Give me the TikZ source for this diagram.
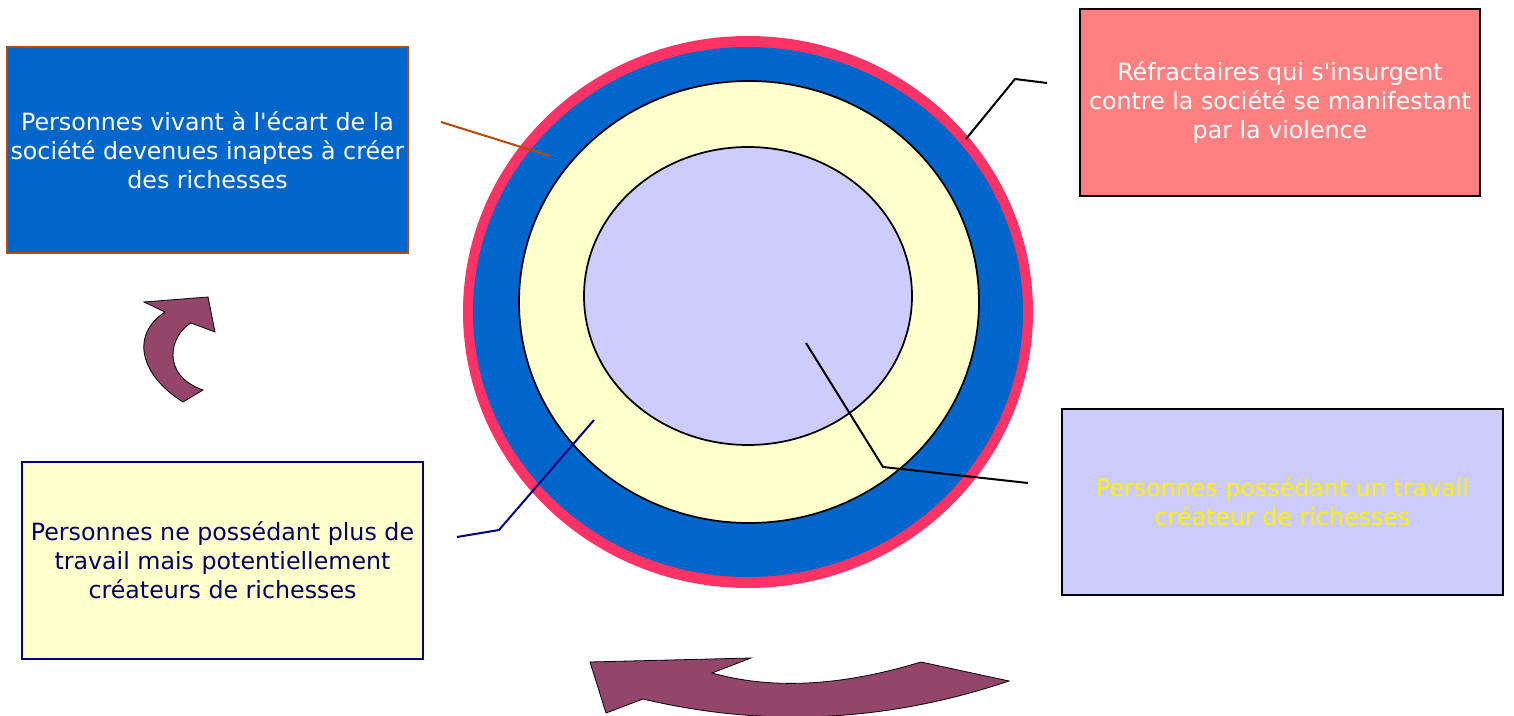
\documentclass[tikz,border=0pt]{standalone}
\usepackage{fontspec}
\setmainfont{DejaVu Sans}
\definecolor{ringred}{HTML}{FF3366}
\definecolor{ringblue}{HTML}{0066CC}
\definecolor{paleyellow}{HTML}{FFFFCC}
\definecolor{lavender}{HTML}{CCCCFF}
\definecolor{salmon}{HTML}{FF8080}
\definecolor{plum}{HTML}{934669}
\definecolor{rust}{HTML}{B84A00}
\definecolor{navy}{HTML}{000080}
\definecolor{navytext}{HTML}{000066}
\begin{document}
\begin{tikzpicture}[x=0.75pt,y=-0.75pt,
    box/.style={draw,line width=1.5pt,inner sep=0pt,align=center,
      font=\fontsize{17.8}{21.75}\selectfont},
    lead/.style={line width=1.5pt},
    bendarrow/.style={fill=plum,draw=black,line width=0.6pt}]
      \useasboundingbox (0,0) rectangle (1514,716);

      \fill[ringred]  (748,312) ellipse [x radius=285, y radius=276];
      \fill[ringblue] (748,312) ellipse [x radius=275, y radius=265];
      \draw[fill=paleyellow,line width=1.3pt] (749,302) ellipse [x radius=230, y radius=221];
      \draw[fill=lavender,line width=1.3pt]   (748,296) ellipse [x radius=164, y radius=149];

      \node[box,draw=rust,fill=ringblue,text=white,minimum width=300.75pt,minimum height=154.5pt]
        (outcast) at (207.5,150) {Personnes vivant à l\textquotesingle écart de la\\société devenues inaptes à créer\\des richesses};
      \node[box,fill=salmon,text=white,minimum width=300pt,minimum height=140.25pt]
        (rebels) at (1280,102.5) {Réfractaires qui s\textquotesingle insurgent\\contre la société se manifestant\\par la violence};
      \node[box,fill=lavender,text=yellow,minimum width=330.75pt,minimum height=139.5pt]
        (workers) at (1282.5,502) {Personnes possédant un travail\\créateur de richesses};
      \node[box,draw=navy,fill=paleyellow,text=navytext,minimum width=300.75pt,minimum height=147.75pt]
        (jobless) at (222.5,560.5) {Personnes ne possédant plus de\\travail mais potentiellement\\créateurs de richesses};

      \coordinate (outcast end) at (441,122);
      \coordinate (outcast ring) at (550,156);
      \coordinate (rebels end) at (1047,83);
      \coordinate (rebels ring) at (966,139);
      \coordinate (workers end) at (1028,483);
      \coordinate (workers core) at (806,343);
      \coordinate (jobless end) at (457,537);
      \coordinate (jobless ring) at (594,420);

      \draw[lead,rust] (outcast end) -- (outcast ring);
      \draw[lead] (rebels end) -- (1015,79) -- (rebels ring);
      \draw[lead] (workers end) -- (883,467) -- (workers core);
      \draw[lead,navy] (jobless end) -- (499,530) -- (jobless ring);

      \draw[bendarrow] (203,390) -- (183,402)
        .. controls (140,375) and (130,335) .. (165,312)
        -- (144,302) -- (208,297) -- (215,332) -- (191,323)
        .. controls (170,335) and (160,375) .. cycle;
      \draw[bendarrow] (590,662) -- (751,658) -- (712,673)
        .. controls (773,690) and (842,686) .. (921,662)
        -- (1009,681) .. controls (887,722) and (765,728) .. (643,699)
        -- (606,713) -- cycle;
    \end{tikzpicture}
\end{document}
